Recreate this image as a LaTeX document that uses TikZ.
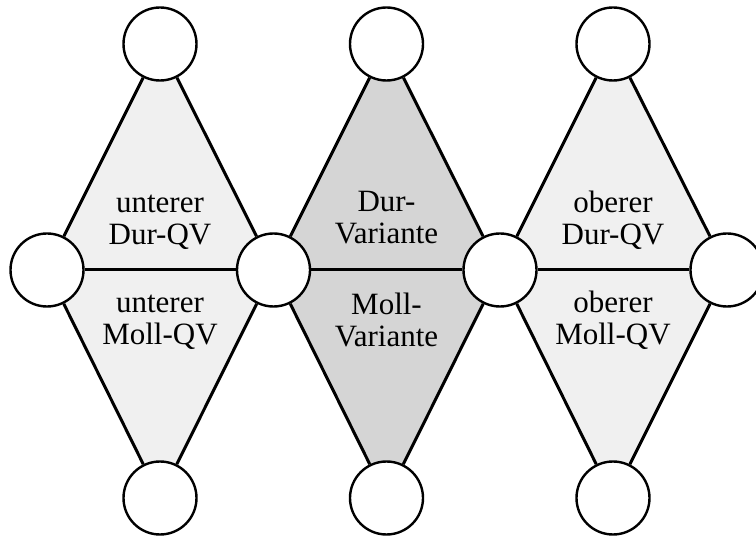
\documentclass[tikz,border=0pt]{standalone}
\usepackage{fontspec}
\setmainfont{Liberation Serif}
\usetikzlibrary{backgrounds}
\definecolor{lightfill}{HTML}{F0F0F0}
\definecolor{darkfill}{HTML}{D5D5D5}
\begin{document}
\begin{tikzpicture}[x=1pt,y=-1pt,
  vtx/.style={circle,draw,fill=white,line width=2.4pt,minimum size=73pt,inner sep=0pt},
  edge/.style={line width=3pt},
  lbl/.style={font=\fontsize{31}{32}\selectfont,align=center,anchor=base,inner sep=0pt}]
\useasboundingbox (0,0) rectangle (756,537);
\node[vtx] (m1) at (47,270) {};
\node[vtx] (m2) at (273.5,270) {};
\node[vtx] (m3) at (500,270) {};
\node[vtx] (m4) at (727,270) {};
\node[vtx] (t1) at (160,44) {};
\node[vtx] (t2) at (386.5,44) {};
\node[vtx] (t3) at (613,44) {};
\node[vtx] (b1) at (160,498) {};
\node[vtx] (b2) at (386.5,498) {};
\node[vtx] (b3) at (613,498) {};
\begin{scope}[on background layer]
  \fill[lightfill] (m1.center) -- (t1.center) -- (m2.center) -- (b1.center) -- cycle;
  \fill[darkfill] (m2.center) -- (t2.center) -- (m3.center) -- (b2.center) -- cycle;
  \fill[lightfill] (m3.center) -- (t3.center) -- (m4.center) -- (b3.center) -- cycle;
  \draw[edge] (m1) -- (t1) -- (m2) -- (b1) -- (m1);
  \draw[edge] (m2) -- (t2) -- (m3) -- (b2) -- (m2);
  \draw[edge] (m3) -- (t3) -- (m4) -- (b3) -- (m3);
  \draw[edge] (m1) -- (m2);
  \draw[edge] (m2) -- (m3);
  \draw[edge] (m3) -- (m4);
\end{scope}
\node[lbl] (l1) at (160,245) {unterer\\Dur-QV};
\node[lbl] (l2) at (160,345) {unterer\\Moll-QV};
\node[lbl] (l3) at (386.5,244) {Dur-\\Variante};
\node[lbl] (l4) at (386.5,347) {Moll-\\Variante};
\node[lbl] (l5) at (613,245) {oberer\\Dur-QV};
\node[lbl] (l6) at (613,345) {oberer\\Moll-QV};
\end{tikzpicture}
\end{document}
